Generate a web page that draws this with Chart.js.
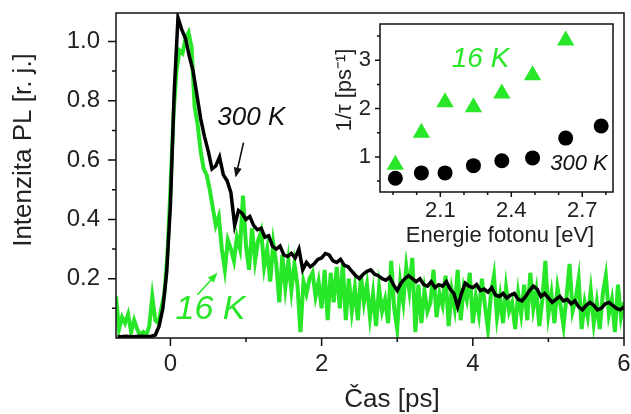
<!DOCTYPE html>
<html lang="cs">
<head>
<meta charset="UTF-8">
<title>Intenzita PL</title>
<script src="https://cdn.jsdelivr.net/npm/chart.js"></script>
<style>
  html, body { margin: 0; padding: 0; background: #fff; }
  #wrap { position: relative; width: 631px; height: 414px; }
  #main { position: absolute; left: 0; top: 0; }
  #inset { position: absolute; left: 328px; top: 14px; background: #fff; }
</style>
</head>
<body>
<div id="wrap">
  <canvas id="main" width="631" height="414"></canvas>
  <canvas id="inset" width="295" height="237"></canvas>
</div>
<script>
// hlavni graf: casovy prubeh PL (cas v ps, intenzita v r. j.)
const time300Start = -0.70, time300Step = 0.05;
const pl300K = [
  .005, .004, .006, .005, .004, .005, .006, .005, .005, .006,
  .01, .04, .10, .22, .45, .83, 1.08, 1.04, 1.01, .95,
  .90, .82, .74, .68, .63, .57, .58, .61, .55, .53,
  .49, .38, .43, .42, .40, .41, .38, .365, .37, .34,
  .345, .31, .30, .31, .28, .275, .285, .27, .30, .23,
  .255, .24, .25, .265, .27, .285, .28, .26, .255, .265,
  .245, .24, .225, .21, .20, .215, .225, .23, .215, .21,
  .20, .195, .205, .18, .16, .185, .20, .21, .20, .19,
  .20, .18, .175, .19, .17, .18, .175, .19, .165, .15,
  .105, .15, .185, .175, .17, .18, .16, .165, .155, .17,
  .145, .14, .15, .135, .145, .15, .13, .125, .14, .16,
  .175, .165, .14, .15, .135, .12, .13, .14, .125, .13,
  .115, .125, .105, .095, .11, .12, .11, .095, .10, .115,
  .12, .11, .10, .095, .105
];
const time16Start = -0.72, time16Step = 0.04;
const pl16K = [
  .14, .03, .07, .05, .08, .02, .06, .03, .01, .02,
  .01, .04, .14, .06, .05, .10, .15, .28, .50, .75,
  .90, .97, .96, 1.01, 1.03, .98, .78, .72, .63, .57,
  .55, .50, .44, .38, .41, .30, .23, .33, .30, .26,
  .34, .30, .48, .31, .23, .37, .26, .33, .36, .24,
  .30, .19, .32, .25, .12, .28, .17, .26, .16, .25,
  .18, .02, .19, .15, .20, .22, .14, .19, .10, .23,
  .06, .22, .12, .24, .10, .25, .06, .20, .09, .17,
  .06, .21, .12, .18, .07, .15, .04, .17, .09, .13,
  .05, .26, .10, .03, .19, .12, .24, .16, .27, .02,
  .18, .05, .16, .09, .12, .23, .07, .15, .11, .21,
  .04, .16, .10, .23, .06, .17, .13, .22, .05, .14,
  .08, .20, .11, .03, .15, .21, .07, .14, .05, .17,
  .09, .12, .03, .15, .08, .18, .06, .22, .10, .16,
  .04, .13, .26, .08, .15, .05, .17, .11, .04, .14,
  .25, .09, .13, .20, .03, .12, .07, .16, .05, .12,
  .03, .15, .21, .08, .13, .02, .18, .07, .12
];
const mainXMajor = [0, 2, 4, 6], mainXMinor = [1, 3, 5];
const mainYMajor = [0.2, 0.4, 0.6, 0.8, 1.0], mainYMinor = [0.1, 0.3, 0.5, 0.7, 0.9];

// vlozeny graf: 1/tau v zavislosti na energii fotonu
const photonEnergy = [1.91, 2.02, 2.12, 2.24, 2.36, 2.49, 2.63, 2.78];
const rate300K = [0.56, 0.67, 0.67, 0.82, 0.92, 0.98, 1.39, 1.64];
const rate16K = [0.84, 1.50, 2.13, 2.03, 2.31, 2.69, 3.41];
const insetXMajor = [2.1, 2.4, 2.7], insetXMinor = [1.9, 2.0, 2.2, 2.3, 2.5, 2.6, 2.8];
const insetYMajor = [1, 2, 3], insetYMinor = [0.5, 1.5, 2.5, 3.5];

const GREEN = 'rgb(40, 230, 40)';
const FONT = '"Liberation Sans", Arial, sans-serif';

// ramecek, znacky os, popisky os a poznamky
const axisBox = {
  id: 'axisBox',
  afterDraw(chart, args, o) {
    const {ctx, chartArea: a, scales: {x, y}} = chart;
    ctx.save();
    ctx.strokeStyle = '#111';
    ctx.lineWidth = 1.5;
    ctx.strokeRect(a.left, a.top, a.right - a.left, a.bottom - a.top);
    ctx.beginPath();
    const tx = (vals, len) => vals.forEach(v => {
      const p = x.getPixelForValue(v);
      ctx.moveTo(p, a.bottom); ctx.lineTo(p, a.bottom + len);
    });
    const ty = (vals, len) => vals.forEach(v => {
      const p = y.getPixelForValue(v);
      ctx.moveTo(a.left, p); ctx.lineTo(a.left - len, p);
    });
    tx(o.xMajor, o.major); tx(o.xMinor, o.minor);
    ty(o.yMajor, o.major); ty(o.yMinor, o.minor);
    ctx.stroke();

    ctx.fillStyle = '#222';
    ctx.font = o.titleFont;
    ctx.textAlign = 'center';
    ctx.textBaseline = 'middle';
    ctx.fillText(o.xTitle, o.xTitlePos[0], o.xTitlePos[1]);
    ctx.save();
    ctx.translate(o.yTitlePos[0], o.yTitlePos[1]);
    ctx.rotate(-Math.PI / 2);
    ctx.fillText(o.yTitle, 0, 0);
    ctx.restore();

    o.notes.forEach(n => {
      ctx.font = n.font;
      ctx.fillStyle = n.color;
      ctx.fillText(n.text, x.getPixelForValue(n.x), y.getPixelForValue(n.y));
    });
    o.arrows.forEach(ar => {
      const x0 = x.getPixelForValue(ar.from[0]), y0 = y.getPixelForValue(ar.from[1]);
      const x1 = x.getPixelForValue(ar.to[0]), y1 = y.getPixelForValue(ar.to[1]);
      const ang = Math.atan2(y1 - y0, x1 - x0);
      ctx.strokeStyle = ar.color;
      ctx.fillStyle = ar.color;
      ctx.lineWidth = 1.6;
      ctx.beginPath();
      ctx.moveTo(x0, y0);
      ctx.lineTo(x1 - 6 * Math.cos(ang), y1 - 6 * Math.sin(ang));
      ctx.stroke();
      ctx.beginPath();
      ctx.moveTo(x1, y1);
      ctx.lineTo(x1 - 10 * Math.cos(ang) + 4 * Math.sin(ang), y1 - 10 * Math.sin(ang) - 4 * Math.cos(ang));
      ctx.lineTo(x1 - 10 * Math.cos(ang) - 4 * Math.sin(ang), y1 - 10 * Math.sin(ang) + 4 * Math.cos(ang));
      ctx.closePath();
      ctx.fill();
    });
    ctx.restore();
  }
};

function fixedAxis(size, horizontal) {
  return s => {
    if (horizontal) s.height = size; else s.width = size;
    s.paddingTop = 0; s.paddingBottom = 0; s.paddingLeft = 0; s.paddingRight = 0;
  };
}

function series(start, step, values) {
  return values.map((v, i) => ({x: start + i * step, y: v}));
}

new Chart(document.getElementById('main'), {
  type: 'line',
  data: {
    datasets: [
      {label: '300 K', data: series(time300Start, time300Step, pl300K),
       borderColor: '#000', borderWidth: 3.5, pointRadius: 0, tension: 0},
      {label: '16 K', data: series(time16Start, time16Step, pl16K),
       borderColor: GREEN, borderWidth: 4, pointRadius: 0, tension: 0}
    ]
  },
  options: {
    responsive: false,
    animation: false,
    layout: {padding: {top: 13, right: 7, left: 0, bottom: 0}},
    plugins: {
      legend: {display: false},
      tooltip: {enabled: false},
      axisBox: {
        xMajor: mainXMajor, xMinor: mainXMinor, yMajor: mainYMajor, yMinor: mainYMinor,
        major: 8, minor: 4,
        titleFont: '26px ' + FONT,
        xTitle: 'Čas [ps]', xTitlePos: [392, 400],
        yTitle: 'Intenzita PL [r. j.]', yTitlePos: [24, 150],
        notes: [
          {text: '300 K', x: 1.07, y: 0.743, font: 'italic 26px ' + FONT, color: '#111'},
          {text: '16 K', x: 0.53, y: 0.096, font: 'italic 34px ' + FONT, color: GREEN}
        ],
        arrows: [
          {from: [0.967, 0.659], to: [0.861, 0.541], color: '#111'},
          {from: [0.358, 0.146], to: [0.623, 0.220], color: GREEN}
        ]
      }
    },
    scales: {
      x: {
        type: 'linear', min: -0.72, max: 6,
        afterFit: fixedAxis(76, true),
        afterBuildTicks: s => { s.ticks = mainXMajor.map(v => ({value: v})); },
        grid: {display: false, drawTicks: false},
        border: {display: false},
        ticks: {padding: 12, color: '#222', font: {family: FONT, size: 24},
                autoSkip: false, maxRotation: 0, callback: v => String(v)}
      },
      y: {
        type: 'linear', min: 0, max: 1.096,
        afterFit: fixedAxis(116, false),
        afterBuildTicks: s => { s.ticks = mainYMajor.map(v => ({value: v})); },
        grid: {display: false, drawTicks: false},
        border: {display: false},
        ticks: {padding: 16, color: '#222', font: {family: FONT, size: 24},
                autoSkip: false, callback: v => v.toFixed(1)}
      }
    }
  },
  plugins: [axisBox]
});

new Chart(document.getElementById('inset'), {
  type: 'scatter',
  data: {
    datasets: [
      {label: '300 K', data: photonEnergy.map((e, i) => ({x: e, y: rate300K[i]})),
       pointStyle: 'circle', pointRadius: 7.5, backgroundColor: '#000', borderWidth: 0},
      {label: '16 K', data: rate16K.map((r, i) => ({x: photonEnergy[i], y: r})),
       pointStyle: 'triangle', pointRadius: 10, backgroundColor: GREEN, borderWidth: 0}
    ]
  },
  options: {
    responsive: false,
    animation: false,
    layout: {padding: {top: 1, right: 4, left: 0, bottom: 0}},
    plugins: {
      legend: {display: false},
      tooltip: {enabled: false},
      axisBox: {
        xMajor: insetXMajor, xMinor: insetXMinor, yMajor: insetYMajor, yMinor: insetYMinor,
        major: 5, minor: 3,
        titleFont: '22px ' + FONT,
        xTitle: 'Energie fotonu [eV]', xTitlePos: [172, 222],
        yTitle: '1/τ [ps⁻¹]', yTitlePos: [17, 76],
        notes: [
          {text: '16 K', x: 2.27, y: 3.02, font: 'italic 28px ' + FONT, color: GREEN},
          {text: '300 K', x: 2.686, y: 0.863, font: 'italic 22px ' + FONT, color: '#111'}
        ],
        arrows: []
      }
    },
    scales: {
      x: {
        type: 'linear', min: 1.845, max: 2.83,
        afterFit: fixedAxis(59, true),
        afterBuildTicks: s => { s.ticks = insetXMajor.map(v => ({value: v})); },
        grid: {display: false, drawTicks: false},
        border: {display: false},
        ticks: {padding: 6, color: '#222', font: {family: FONT, size: 22},
                autoSkip: false, maxRotation: 0, callback: v => v.toFixed(1)}
      },
      y: {
        type: 'linear', min: 0.275, max: 3.75,
        afterFit: fixedAxis(52, false),
        afterBuildTicks: s => { s.ticks = insetYMajor.map(v => ({value: v})); },
        grid: {display: false, drawTicks: false},
        border: {display: false},
        ticks: {padding: 9, color: '#222', font: {family: FONT, size: 22},
                autoSkip: false, callback: v => String(v)}
      }
    }
  },
  plugins: [axisBox]
});
</script>
</body>
</html>
